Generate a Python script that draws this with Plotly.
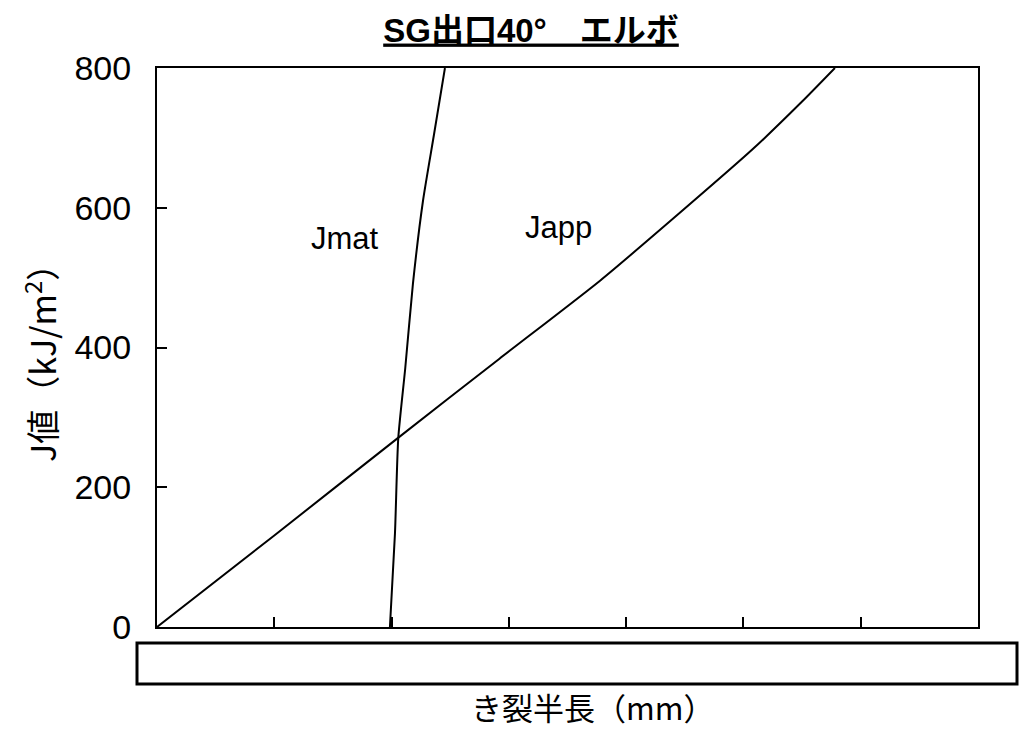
import plotly.graph_objects as go

# Data (x: crack half length in mm, tick labels hidden in the reference; y: J value kJ/m2)
japp_x = [0, 10, 20.5, 29.2, 37.8, 44.8, 50.8, 55.0, 57.8]
japp_y = [0, 131, 270, 384, 496, 596, 684, 752, 800]

jmat_x = [19.86, 20.29, 20.57, 21.17, 21.82, 22.68, 23.6, 24.55]
jmat_y = [0, 134, 270, 371, 491, 610, 703, 800]

x_ticks = [0, 10, 20, 30, 40, 50, 60, 70]
y_ticks = [0, 200, 400, 600, 800]

title_text = "SG出口40°　エルボ"
x_title = "き裂半長（mm）"
y_title = "J値（kJ/m<sup>2</sup>）"

fig = go.Figure()
fig.add_trace(go.Scatter(x=japp_x, y=japp_y, mode="lines", name="Japp",
                         line=dict(color="black", width=2, shape="spline", smoothing=0.6)))
fig.add_trace(go.Scatter(x=jmat_x, y=jmat_y, mode="lines", name="Jmat",
                         line=dict(color="black", width=2, shape="spline", smoothing=0.6)))

fig.add_annotation(x=16.0, y=556, text="Jmat", showarrow=False,
                   xanchor="center", yanchor="middle",
                   font=dict(family="Liberation Sans, Arial", size=31, color="black"))
fig.add_annotation(x=34.2, y=572, text="Japp", showarrow=False,
                   xanchor="center", yanchor="middle",
                   font=dict(family="Liberation Sans, Arial", size=31, color="black"))

# axis titles
fig.add_annotation(xref="paper", yref="paper", x=(592 - 157) / 821, y=(627 - 706) / 559,
                   text=x_title, showarrow=False, xanchor="center", yanchor="middle",
                   font=dict(family="Noto Sans CJK JP", size=31, color="black"))
fig.add_annotation(xref="paper", yref="paper", x=(40 - 157) / 821, y=(627 - 355) / 559,
                   text=y_title, showarrow=False, textangle=-90,
                   xanchor="center", yanchor="middle",
                   font=dict(family="Noto Sans CJK JP", size=34, color="black"))

# redaction box covering the x tick labels
fig.add_shape(type="rect", xref="paper", yref="paper",
              x0=(137 - 157) / 821, x1=(1017 - 157) / 821,
              y0=(627 - 684) / 559, y1=(627 - 643) / 559,
              line=dict(color="black", width=3), fillcolor="white")

fig.update_layout(
    width=1022, height=731,
    margin=dict(l=157, r=44, t=68, b=104),
    paper_bgcolor="white", plot_bgcolor="white",
    showlegend=False,
    title=dict(text="<b><u>" + title_text + "</u></b>", x=531 / 1022, xanchor="center",
               y=1 - 30 / 731, yanchor="middle",
               font=dict(family="Liberation Sans, Noto Sans CJK JP", size=33, color="black")),
)
fig.update_xaxes(range=[0, 70], tickvals=x_ticks, showticklabels=False, ticks="inside",
                 ticklen=10, tickwidth=1.5, tickcolor="black", showline=True, linecolor="black",
                 linewidth=2, mirror=True, showgrid=False, zeroline=False)
fig.update_yaxes(range=[0, 800], tickvals=y_ticks, ticks="inside", ticklen=10, tickwidth=1.5,
                 tickcolor="black", showline=True, linecolor="black", linewidth=2, mirror=True,
                 showgrid=False, zeroline=False, ticklabelstandoff=17,
                 tickfont=dict(family="Liberation Sans, Arial", size=34, color="black"))

fig.write_html("out.html", config={"displayModeBar": False},
               post_script="document.body.style.margin='0';document.body.style.overflow='hidden';")
